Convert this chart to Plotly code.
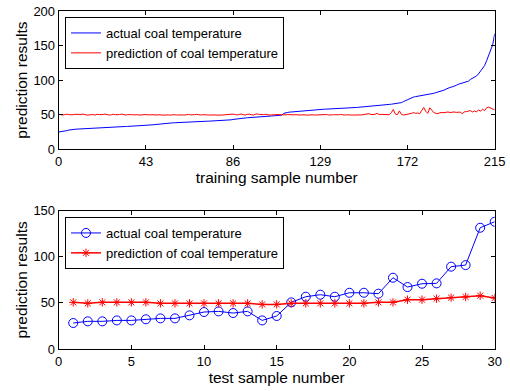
import plotly.graph_objects as go

# ---- training set (216 samples) ----
train_actual = [
    25.0, 25.3, 25.6, 26.2, 27.0, 27.8,
    28.5, 28.8, 29.0, 29.2, 29.4, 29.5, 29.7, 29.9,
    30.2, 30.4, 30.5, 30.6, 30.8, 30.9, 31.0, 31.2, 31.4, 31.6, 31.8,
    32.0, 32.1, 32.3, 32.4, 32.5, 32.6, 32.8, 32.9, 33.0, 33.1, 33.2, 33.4, 33.6,
    33.8, 34.0, 34.1, 34.3, 34.5, 34.6, 34.8, 35.0, 35.3, 35.6, 36.0, 36.3,
    36.6, 36.9, 37.3, 37.6, 37.8, 38.0, 38.2, 38.4, 38.6, 38.8, 39.0, 39.2, 39.4,
    39.5, 39.6, 39.7, 39.8, 39.9, 40.0, 40.1, 40.2, 40.3, 40.5, 40.6, 40.7, 40.8, 41.0, 41.1,
    41.3, 41.4, 41.5, 41.6, 41.8, 42.0, 42.2, 42.6, 43.2, 43.7, 44.1, 44.4, 44.7,
    45.0, 45.3, 45.6, 45.9, 46.1, 46.4, 46.6, 46.8, 47.0, 47.2,
    47.4, 47.6, 47.8, 48.0, 48.2, 48.4, 48.6, 48.8, 49.0, 49.4,
    52.0, 53.0, 53.4, 53.8, 54.1, 54.5, 54.8, 55.1, 55.4, 55.7,
    56.0, 56.3, 56.6, 56.9, 57.1, 57.3, 57.5, 57.7, 57.8, 57.9,
    58.0, 58.1, 58.2, 58.3, 58.4, 58.5, 58.6, 58.8, 59.0, 59.1, 59.3,
    59.5, 59.7, 59.9, 60.1, 60.3, 60.5, 60.8, 61.0, 61.3, 61.5, 61.8,
    62.0, 62.3, 62.6, 62.9, 63.2, 63.4, 63.7, 64.0, 64.3, 64.6, 64.9,
    65.2, 65.5, 65.8, 66.1, 66.5, 67.5, 69.0, 70.5,
    72.0, 73.5, 74.8, 75.6, 76.2, 76.7, 77.1, 77.5, 77.9,
    78.3, 78.8, 79.4, 80.2, 81.0, 82.0, 82.8, 83.4, 84.0, 85.5,
    87.0, 88.5, 89.5, 90.2, 91.0, 92.5, 94.0, 95.0, 95.6, 96.2,
    97.0, 98.5, 101.0, 102.5, 104.0, 106.0, 109.0, 113.0, 117.5, 121.0,
    128.0, 136.0, 145.0, 151.0, 167.0,
]

train_pred = [
    50.5, 50.0, 49.6, 50.2, 50.8, 50.1, 49.5, 49.9, 50.6, 50.3,
    49.7, 50.4, 50.9, 50.0, 49.4, 49.8, 50.5, 50.2, 49.6, 50.7,
    50.1, 49.8, 50.4, 50.9, 50.2, 49.5, 49.9, 50.6, 50.0, 49.7,
    50.3, 50.8, 50.1, 49.6, 50.0, 50.5, 50.2, 49.8, 50.4, 50.0,
    49.5, 49.9, 50.6, 50.3, 49.8, 50.1, 50.7, 50.0, 49.6, 50.2,
    49.9, 49.4, 49.8, 50.3, 49.7, 49.5, 49.9, 50.1, 49.6, 49.8,
    50.2, 49.7, 49.5, 50.0, 50.4, 49.8, 49.6, 50.1, 50.5, 49.9,
    49.6, 50.0, 50.3, 49.8, 49.5, 49.9, 50.2, 49.7, 49.4, 49.8,
    50.1, 49.6, 49.9, 50.3, 49.8, 50.6, 50.9, 50.2, 49.7, 50.4,
    51.0, 50.1, 49.6, 50.5, 50.8, 50.0, 49.6, 50.7, 51.1, 50.3,
    49.8, 50.2, 50.6, 49.9, 49.5, 49.8, 50.1, 49.6, 49.9, 50.3,
    49.8, 49.5, 49.9, 50.2, 49.7, 49.4, 49.8, 50.1, 49.6, 49.5,
    49.9, 50.2, 49.6, 49.4, 49.8, 50.0, 49.5, 49.7, 50.1, 49.8,
    49.5, 49.9, 50.3, 49.7, 49.4, 49.8, 50.0, 49.6, 49.9, 50.4,
    49.8, 49.5, 49.9, 50.2, 49.6, 49.5, 49.9, 50.3, 49.7, 49.6,
    50.0, 49.8, 50.4, 51.5, 50.2, 50.0, 50.6, 52.0, 50.3, 50.5,
    50.2, 49.9, 50.3, 50.0, 53.0, 57.5, 51.0, 50.0, 55.5, 50.5,
    49.5, 50.0, 51.0, 50.5, 52.0, 53.0, 52.0, 52.5, 51.5, 56.0,
    60.5, 55.0, 52.0, 60.0, 57.0, 53.0, 52.0, 51.5, 53.0, 52.5,
    53.0, 53.5, 54.0, 53.2, 53.8, 54.0, 53.4, 53.6, 53.8, 51.5,
    54.0, 54.5, 55.0, 56.0, 54.0, 55.5, 54.0, 57.0, 55.0, 58.0,
    56.0, 60.0, 61.0, 59.5, 58.0, 57.0,
]

# ---- test set (30 samples) ----
test_actual = [
    28.2, 30.0, 30.0, 31.0, 31.0, 32.2, 33.2, 33.2, 36.5, 40.1,
    40.8, 39.0, 40.8, 31.0, 35.8, 50.6, 56.7, 58.9, 56.7, 61.0,
    61.0, 60.0, 77.3, 67.2, 70.8, 71.2, 89.3, 91.0, 131.5, 138.0,
]
test_pred = [
    50.6, 49.5, 50.6, 50.6, 50.6, 50.6, 49.5, 49.5, 49.5, 49.5,
    49.5, 49.5, 49.5, 48.4, 48.4, 49.5, 49.5, 49.5, 49.5, 49.5,
    49.5, 50.6, 50.6, 53.5, 53.5, 54.6, 55.7, 56.4, 57.8, 55.3,
]

train_ticks = [0, 43, 86, 129, 172, 215]
series_names = ["actual coal temperature", "prediction of coal temperature"]

train_x = list(range(len(train_actual)))
test_x = list(range(1, len(test_actual) + 1))

FONT = "Liberation Sans, Arial, sans-serif"
BLUE = "#0000ff"
RED = "#ff0000"

fig = go.Figure()

fig.add_trace(go.Scatter(x=train_x, y=train_actual, mode="lines", name=series_names[0],
                         line=dict(color=BLUE, width=1), xaxis="x", yaxis="y", legend="legend"))
fig.add_trace(go.Scatter(x=train_x, y=train_pred, mode="lines", name=series_names[1],
                         line=dict(color=RED, width=1), xaxis="x", yaxis="y", legend="legend"))

fig.add_trace(go.Scatter(x=test_x, y=test_actual, mode="lines+markers", name=series_names[0],
                         line=dict(color=BLUE, width=1),
                         marker=dict(symbol="circle-open", size=9, color=BLUE, line=dict(width=1, color=BLUE)),
                         xaxis="x2", yaxis="y2", legend="legend2"))
fig.add_trace(go.Scatter(x=test_x, y=test_pred, mode="lines+markers", name=series_names[1],
                         line=dict(color=RED, width=1.5),
                         marker=dict(symbol="asterisk-open", size=7, color=RED, line=dict(width=1, color=RED)),
                         xaxis="x2", yaxis="y2", legend="legend2"))

axis_common = dict(showgrid=False, zeroline=False, showline=True, linecolor="black", linewidth=1,
                   mirror="ticks", ticks="inside", ticklen=4, tickcolor="black", automargin=False,
                   tickfont=dict(family=FONT, size=13, color="black"))

x_dom = [58.7 / 510, 494.7 / 510]
TITLE_SIZE = 15.5

fig.update_layout(
    width=510, height=391,
    margin=dict(l=0, r=0, t=0, b=0, autoexpand=False),
    paper_bgcolor="white", plot_bgcolor="white",
    font=dict(family=FONT, size=13, color="black"),
    xaxis=dict(axis_common, domain=x_dom, anchor="y", range=[0, 215], tickvals=train_ticks,
               title=dict(text="training sample number", font=dict(size=TITLE_SIZE), standoff=4)),
    yaxis=dict(axis_common, domain=[1 - 149.3 / 391, 1 - 11 / 391], anchor="x", range=[0, 200],
               tickvals=[0, 50, 100, 150, 200],
               title=dict(text="prediction results", font=dict(size=TITLE_SIZE), standoff=1)),
    xaxis2=dict(axis_common, domain=x_dom, anchor="y2", range=[0, 30], tickvals=[0, 5, 10, 15, 20, 25, 30],
                title=dict(text="test sample number", font=dict(size=TITLE_SIZE), standoff=4)),
    yaxis2=dict(axis_common, domain=[1 - 349 / 391, 1 - 210.7 / 391], anchor="x2", range=[0, 150],
                tickvals=[0, 50, 100, 150],
                title=dict(text="prediction results", font=dict(size=TITLE_SIZE), standoff=1)),
    legend=dict(x=65 / 510, y=1 - 17 / 391, xanchor="left", yanchor="top",
                bordercolor="black", borderwidth=1, bgcolor="white",
                font=dict(family=FONT, size=13), tracegroupgap=0),
    legend2=dict(x=65 / 510, y=1 - 217 / 391, xanchor="left", yanchor="top",
                 bordercolor="black", borderwidth=1, bgcolor="white",
                 font=dict(family=FONT, size=13), tracegroupgap=0),
    showlegend=True,
)

fig.write_html("out.html")
